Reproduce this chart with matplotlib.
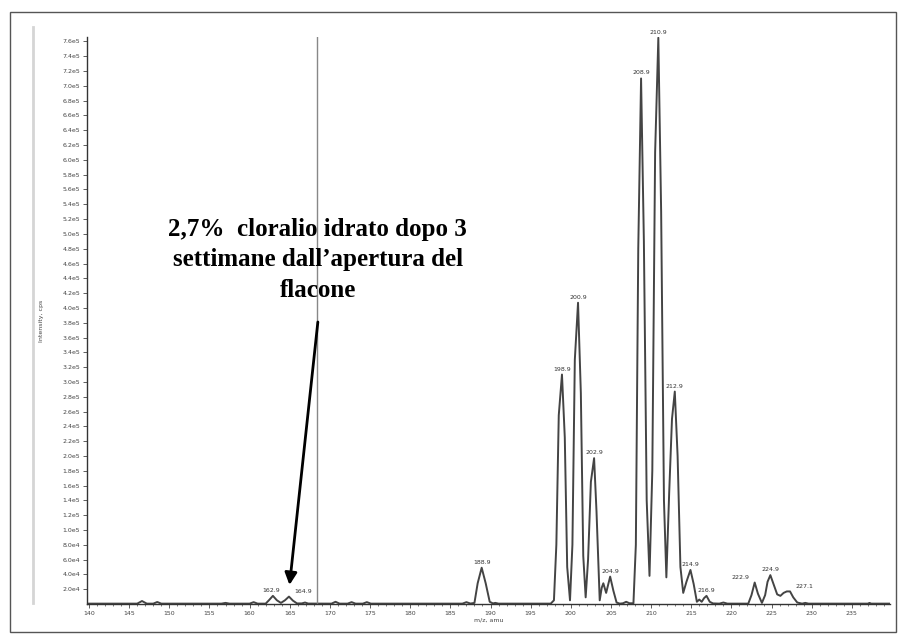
import numpy as np
import matplotlib
matplotlib.use("Agg")
import matplotlib.pyplot as plt
from matplotlib.ticker import MultipleLocator, FuncFormatter
from matplotlib.patches import Rectangle
from matplotlib.lines import Line2D

# ---- data ----
# profile trace: m/z and intensity (thousands of cps)
mz = [139.75, 141.0, 146.0, 146.6, 147.2, 148.0, 148.5, 149.0, 156.5, 157.0, 157.5,
      160.0, 160.5, 161.0, 162.0, 162.4, 162.9, 163.4, 163.9, 164.4, 164.9, 165.4, 165.9,
      166.5, 166.9, 167.3, 170.2, 170.7, 171.2, 172.2, 172.7, 173.2, 174.1, 174.6, 175.1,
      186.5, 187.0, 187.5, 188.0, 188.4, 188.9, 189.4, 189.9, 190.3, 190.6, 191.0,
      197.5, 197.9, 198.2, 198.5, 198.9, 199.25, 199.55, 199.9,
      200.2, 200.5, 200.9, 201.25, 201.55, 201.85,
      202.15, 202.5, 202.9, 203.2, 203.6, 203.85, 204.05, 204.4, 204.9, 205.3, 205.7,
      206.1, 206.5, 206.9, 207.3, 207.8,
      208.1, 208.4, 208.75, 209.1, 209.45, 209.8,
      210.15, 210.5, 210.9, 211.25, 211.6, 211.9,
      212.25, 212.6, 212.95, 213.3, 213.65, 214.0,
      214.4, 214.9, 215.3, 215.7, 216.0, 216.3, 216.6, 216.9, 217.3, 217.7,
      218.5, 219.0, 219.5, 222.1, 222.5, 222.9, 223.3, 223.8,
      224.2, 224.5, 224.85, 225.3, 225.7, 226.1, 226.5, 226.9, 227.3, 227.7, 228.2,
      228.8, 229.2, 229.6, 237.0, 237.2, 237.4, 239.75]
intensity_k = [0.5, 0.5, 0.5, 4.0, 0.5, 0.5, 2.7, 0.5, 0.5, 1.5, 0.5,
               0.5, 2.5, 0.5, 0.5, 5.0, 11.0, 5.0, 1.5, 5.0, 10.0, 4.5, 0.8,
               0.8, 2.0, 0.6, 0.5, 3.0, 0.5, 0.5, 2.5, 0.5, 0.5, 2.5, 0.5,
               0.5, 2.5, 0.6, 1.5, 28.0, 49.0, 28.0, 3.0, 0.8, 1.5, 0.5,
               0.5, 5.0, 80.0, 255.0, 310.0, 225.0, 50.0, 5.0,
               80.0, 330.0, 407.0, 285.0, 65.0, 9.0,
               60.0, 165.0, 197.0, 125.0, 5.0, 22.0, 28.0, 15.0, 37.0, 18.0, 2.0,
               0.5, 1.0, 3.0, 1.0, 1.0,
               80.0, 480.0, 710.0, 490.0, 140.0, 38.0,
               180.0, 610.0, 765.0, 530.0, 140.0, 36.0,
               150.0, 250.0, 287.0, 200.0, 50.0, 15.0,
               30.0, 46.0, 27.0, 3.0, 6.0, 3.0, 8.0, 11.0, 3.0, 0.8,
               0.5, 2.0, 0.5, 0.5, 12.0, 29.0, 14.0, 1.5,
               12.0, 30.0, 39.0, 25.0, 13.0, 11.0, 15.0, 17.0, 17.0, 9.0, 2.0,
               0.5, 1.5, 0.5, 0.5, 1.5, 0.5, 0.5]

peak_labels = ["162.9", "164.9", "188.9", "198.9", "200.9", "202.9", "204.9",
               "208.9", "210.9", "212.9", "214.9", "216.9", "222.9", "224.9", "227.1"]
peak_mz = [162.9, 164.9, 188.9, 198.9, 200.9, 202.9, 204.9,
           208.75, 210.9, 212.95, 214.9, 216.9, 222.9, 224.85, 227.1]
peak_int_k = [11, 10, 49, 310, 407, 197, 37, 710, 765, 287, 46, 11, 29, 39, 17]
# label offsets in pixels (style)
label_dx = [-2, 14, 0, 0, 0, 0, 0, 0, 0, 0, 0, 0, -14, 0, 16]
label_dy = [3, 3, 3, 3, 3, 3, 3, 3, 3, 3, 3, 3, 3, 3, 2]

yticks_k = list(range(20, 761, 20))
annotation = "2,7%  cloralio idrato dopo 3\nsettimane dall\u2019apertura del\nflacone"

# ---- figure ----
W, H = 905, 640
fig = plt.figure(figsize=(W / 100, H / 100), dpi=100)
ax = fig.add_axes([87 / W, 1 - 604 / H, (890 - 87) / W, (604 - 37) / H])

ax.plot(mz, [v * 1000 for v in intensity_k], color="#444444", lw=1.4)

ax.set_xlim(139.75, 239.75)
ax.set_ylim(0, 766000)

ax.xaxis.set_major_locator(MultipleLocator(5))
ax.xaxis.set_minor_locator(MultipleLocator(1))
ax.set_yticks([v * 1000 for v in yticks_k])


def yfmt(v, _):
    e = int(np.floor(np.log10(v)))
    return f"{v / 10 ** e:.1f}e{e}"


ax.yaxis.set_major_formatter(FuncFormatter(yfmt))
ax.tick_params(axis="both", which="major", labelsize=4.5, labelcolor="#444",
               color="#444", length=3, width=0.6, pad=2)
ax.tick_params(axis="x", which="minor", length=1.5, width=0.5, color="#444")

for s in ("top", "right"):
    ax.spines[s].set_visible(False)
for s in ("left", "bottom"):
    ax.spines[s].set_color("#333")
    ax.spines[s].set_linewidth(1.0)

ax.set_xlabel("m/z, amu", fontsize=4.5, color="#444", labelpad=1)
ax.set_ylabel("Intensity, cps", fontsize=4.5, color="#444", labelpad=13)

# vertical cursor line
ax.axvline(168.4, color="#888", lw=1.0)

# peak labels
for lab, x, y, dx, dy in zip(peak_labels, peak_mz, peak_int_k, label_dx, label_dy):
    ax.annotate(lab, (x, y * 1000), xytext=(dx * 0.72, dy * 0.72), textcoords="offset points",
                ha="center", va="bottom", fontsize=4.5, color="#333", annotation_clip=False)

# annotation text and arrow
ax.text(168.5, 465000, annotation, ha="center", va="center", fontsize=18,
        fontweight="bold", family=["Liberation Serif", "DejaVu Serif"], linespacing=1.42)
ax.annotate("", xy=(164.97, 25700), xytext=(168.5, 381000),
            arrowprops=dict(arrowstyle="-|>", color="black", lw=2, mutation_scale=18,
                            shrinkA=0, shrinkB=0))

# figure decorations
fig.add_artist(Rectangle((10 / W, 1 - 632 / H), (896 - 10) / W, (632 - 12) / H,
                         transform=fig.transFigure, fill=False, ec="#555", lw=1))
fig.add_artist(Line2D([33 / W, 33 / W], [1 - 27 / H, 1 - 603 / H],
                      transform=fig.transFigure, color="#d5d5d5", lw=2))

fig.savefig("out.png", dpi=100)
